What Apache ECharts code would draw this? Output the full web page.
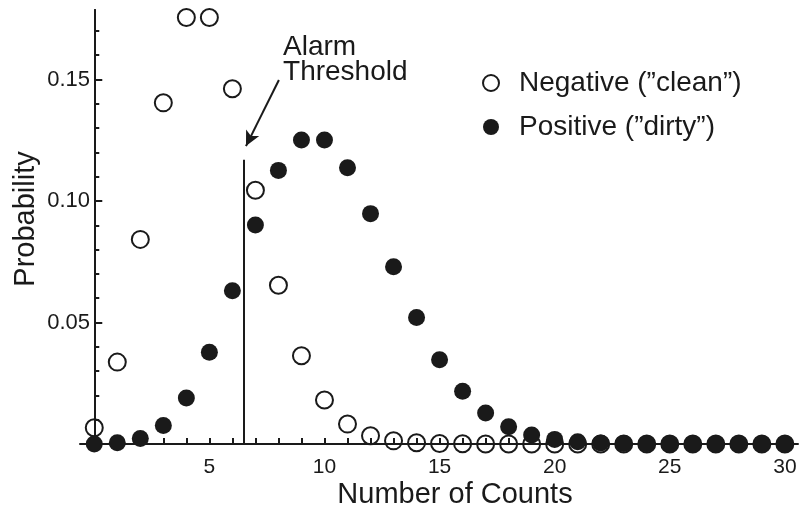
<!DOCTYPE html>
<html>
<head>
<meta charset="utf-8">
<script src="https://cdn.jsdelivr.net/npm/echarts@6/dist/echarts.min.js"></script>
<style>
  html, body { margin: 0; padding: 0; background: #ffffff; }
  #chart { width: 799px; height: 509px; }
</style>
</head>
<body>
<div id="chart"></div>
<script>
// Counts observed per measurement
const counts = [0, 1, 2, 3, 4, 5, 6, 7, 8, 9, 10, 11, 12, 13, 14, 15, 16, 17, 18, 19, 20,
                21, 22, 23, 24, 25, 26, 27, 28, 29, 30];

// Probability of each count for clean (negative) items
const negative = [0.0067, 0.0337, 0.0842, 0.1404, 0.1755, 0.1755, 0.1462, 0.1044, 0.0653, 0.0363,
                  0.0181, 0.0082, 0.0034, 0.0013, 0.0005, 0.0002, 0.0001, 0, 0, 0,
                  0, 0, 0, 0, 0, 0, 0, 0, 0, 0, 0];

// Probability of each count for dirty (positive) items
const positive = [0.0000, 0.0005, 0.0023, 0.0076, 0.0189, 0.0378, 0.0631, 0.0901, 0.1126, 0.1251,
                  0.1251, 0.1137, 0.0948, 0.0729, 0.0521, 0.0347, 0.0217, 0.0128, 0.0071, 0.0037,
                  0.0019, 0.0009, 0.0004, 0.0002, 0.0001, 0, 0, 0, 0, 0, 0];

const seriesNames = ['Negative (\u201dclean\u201d)', 'Positive (\u201ddirty\u201d)'];

// Axis ticks and labels
const xTickValues = counts;
const xLabelValues = [5, 10, 15, 20, 25, 30];
const yMinorTickValues = [0.01, 0.02, 0.03, 0.04, 0.06, 0.07, 0.08, 0.09, 0.11, 0.12, 0.13, 0.14, 0.16, 0.17];
const yLabelValues = [0.05, 0.10, 0.15];

// Alarm threshold annotation (data coordinates)
const thresholdX = 6.5;
const thresholdTop = 0.117;
const arrowFrom = [8.02, 0.1498];
const arrowTo = [6.59, 0.1226];
const noteAnchor = [8.2, 0.1683];
const noteText = 'Alarm\nThreshold';

const ink = '#1a1a1a';
const font = "'Liberation Sans', Arial, Helvetica, sans-serif";

const chart = echarts.init(document.getElementById('chart'), null, { renderer: 'canvas' });

const pairs = (ys) => counts.map((c, i) => [c, ys[i]]);

const yAxisBase = {
  type: 'value',
  min: 0,
  max: 0.1786,
  position: 'left',
  splitLine: { show: false },
  axisLine: { show: true, onZero: true, onZeroAxisIndex: 0, lineStyle: { color: ink, width: 2 } }
};

chart.setOption({
  animation: false,
  backgroundColor: '#ffffff',
  textStyle: { fontFamily: font, color: ink },
  grid: { left: 80, right: 1, top: 10, bottom: 65, containLabel: false, outerBoundsMode: 'none' },
  legend: {
    orient: 'vertical',
    left: 477,
    top: 62,
    itemWidth: 16,
    itemHeight: 16,
    itemGap: 12,
    icon: 'circle',
    data: seriesNames,
    textStyle: { fontFamily: font, fontSize: 28, color: ink, lineHeight: 32, padding: [0, 0, 0, 15] }
  },
  xAxis: {
    type: 'value',
    min: -0.62,
    max: 30.57,
    splitLine: { show: false },
    axisLine: { show: true, onZero: true, lineStyle: { color: ink, width: 2 } },
    axisTick: { show: true, inside: true, length: 6, customValues: xTickValues, lineStyle: { color: ink, width: 2 } },
    axisLabel: { show: true, customValues: xLabelValues, margin: 13, fontSize: 21, color: ink, fontFamily: font },
    name: 'Number of Counts',
    nameLocation: 'middle',
    nameGap: 36,
    nameMoveOverlap: false,
    nameTextStyle: { fontSize: 29, color: ink, fontFamily: font, padding: [0, 0, 0, 32] }
  },
  yAxis: [
    Object.assign({}, yAxisBase, {
      axisTick: { show: true, inside: true, length: 8, customValues: yLabelValues, lineStyle: { color: ink, width: 2 } },
      axisLabel: {
        show: true, customValues: yLabelValues, margin: -10, fontSize: 22, color: ink, fontFamily: font,
        formatter: (v) => v.toFixed(2)
      },
      name: 'Probability',
      nameLocation: 'middle',
      nameGap: 40,
      nameMoveOverlap: false,
      nameTextStyle: { fontSize: 29, color: ink, fontFamily: font, padding: [0, 0, 0, 16] }
    }),
    Object.assign({}, yAxisBase, {
      axisTick: { show: true, inside: true, length: 5, customValues: yMinorTickValues, lineStyle: { color: ink, width: 2 } },
      axisLabel: { show: false }
    })
  ],
  series: [
    {
      name: seriesNames[0],
      type: 'scatter',
      data: pairs(negative),
      symbol: 'circle',
      symbolSize: 17,
      itemStyle: { color: 'rgba(255,255,255,0)', borderColor: ink, borderWidth: 2, opacity: 1 },
      emphasis: { disabled: true },
      markPoint: {
        silent: true,
        symbol: 'circle',
        symbolSize: 0,
        itemStyle: { color: 'rgba(0,0,0,0)', borderWidth: 0 },
        label: {
          show: true,
          position: [0, 0],
          align: 'left',
          verticalAlign: 'top',
          fontSize: 28,
          lineHeight: 25,
          color: ink,
          fontFamily: font,
          formatter: noteText
        },
        data: [{ coord: noteAnchor, value: 0 }]
      }
    },
    {
      name: seriesNames[1],
      type: 'scatter',
      data: pairs(positive),
      symbol: 'circle',
      symbolSize: 17,
      itemStyle: { color: ink, borderWidth: 0, opacity: 1 },
      emphasis: { disabled: true },
      markLine: {
        silent: true,
        symbol: ['none', 'none'],
        label: { show: false },
        lineStyle: { color: ink, width: 2, type: 'solid' },
        emphasis: { disabled: true },
        data: [
          [{ coord: [thresholdX, 0] }, { coord: [thresholdX, thresholdTop] }],
          [{ coord: arrowFrom, symbol: 'none' }, { coord: arrowTo, symbol: 'arrow', symbolSize: [11, 15] }]
        ]
      }
    }
  ]
});
</script>
</body>
</html>
